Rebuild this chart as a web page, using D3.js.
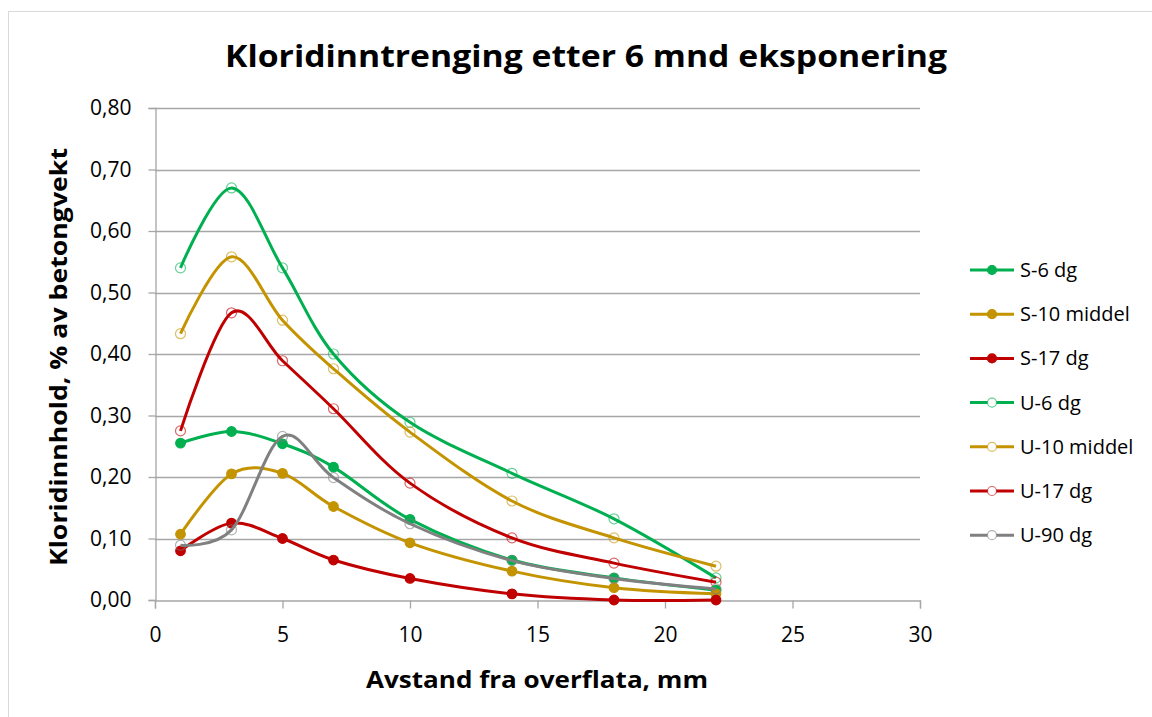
<!DOCTYPE html>
<html>
<head>
<meta charset="utf-8">
<script src="https://cdn.jsdelivr.net/npm/d3@7"></script>
<style>
  body { margin: 0; background: #fff; }
  text { font-family: "Open Sans", sans-serif; }
</style>
</head>
<body>
<div id="chart"></div>
<script>
const width = 1152;
const height = 717;

// distances (mm)
const distances = [1, 3, 5, 7, 10, 14, 18, 22];

const seriesNames = ['S-6 dg', 'S-10 middel', 'S-17 dg', 'U-6 dg', 'U-10 middel', 'U-17 dg', 'U-90 dg'];
const s6 = [0.255, 0.274, 0.254, 0.216, 0.131, 0.065, 0.036, 0.016];
const s10 = [0.107, 0.205, 0.206, 0.152, 0.093, 0.047, 0.020, 0.010];
const s17 = [0.080, 0.125, 0.100, 0.065, 0.035, 0.010, 0.000, 0.000];
const u6 = [0.540, 0.670, 0.540, 0.400, 0.289, 0.206, 0.132, 0.036];
const u10 = [0.433, 0.558, 0.455, 0.376, 0.273, 0.161, 0.101, 0.055];
const u17 = [0.275, 0.467, 0.389, 0.311, 0.190, 0.101, 0.060, 0.029];
const u90 = [0.089, 0.114, 0.266, 0.199, 0.124, 0.064, 0.035, 0.018];
const seriesValues = [s6, s10, s17, u6, u10, u17, u90];
const seriesColors = ['#00b050', '#c49300', '#c00000', '#00b050', '#c49300', '#c00000', '#808080'];
const seriesFilled = [true, true, true, false, false, false, false];

const yTicks = [0, 0.1, 0.2, 0.3, 0.4, 0.5, 0.6, 0.7, 0.8];
const xTicks = [0, 5, 10, 15, 20, 25, 30];

const margin = { top: 108, right: 232, bottom: 117, left: 155 };
const plot = {
  left: margin.left,
  right: width - margin.right,
  top: margin.top,
  bottom: height - margin.bottom,
};

const svg = d3.select('#chart')
  .append('svg')
  .attr('width', width)
  .attr('height', height);

// chart area border
svg.append('rect')
  .attr('x', 8.5).attr('y', 11.5)
  .attr('width', width + 20).attr('height', height + 20)
  .attr('fill', 'none')
  .attr('stroke', '#d9d9d9');

const xScale = d3.scaleLinear().domain([0, 30]).range([plot.left, plot.right]);
const yScale = d3.scaleLinear().domain([0, 0.8]).range([plot.bottom, plot.top]);

const fmt = (d) => d3.format('.2f')(d).replace('.', ',');

// gridlines
svg.append('g')
  .selectAll('line')
  .data(yTicks.slice(1))
  .join('line')
  .attr('x1', plot.left).attr('x2', plot.right)
  .attr('y1', (d) => Math.round(yScale(d)) + 0.5)
  .attr('y2', (d) => Math.round(yScale(d)) + 0.5)
  .attr('stroke', '#a6a6a6')
  .attr('stroke-width', 1.3);

// y axis
const yAxis = svg.append('g')
  .attr('transform', `translate(${plot.left + 0.5},0)`)
  .call(d3.axisLeft(yScale).tickValues(yTicks).tickFormat(fmt).tickSize(7).tickPadding(17));
yAxis.select('.domain').attr('stroke', '#a6a6a6').attr('stroke-width', 1.3);
yAxis.selectAll('.tick line').attr('stroke', '#a6a6a6').attr('stroke-width', 1.3);
yAxis.selectAll('.tick text')
  .attr('font-size', 21)
  .attr('fill', '#000')
  .style('font-family', '"Open Sans", sans-serif');

// x axis
const xAxis = svg.append('g')
  .attr('transform', `translate(0,${plot.bottom + 0.5})`)
  .call(d3.axisBottom(xScale).tickValues(xTicks).tickSize(8).tickPadding(19));
xAxis.select('.domain').attr('stroke', '#a6a6a6').attr('stroke-width', 1.3);
xAxis.selectAll('.tick line').attr('stroke', '#a6a6a6').attr('stroke-width', 1.3);
xAxis.selectAll('.tick text')
  .attr('font-size', 21)
  .attr('fill', '#000')
  .style('font-family', '"Open Sans", sans-serif');

// title
svg.append('text')
  .attr('x', 586).attr('y', 67)
  .attr('text-anchor', 'middle')
  .attr('font-size', 31)
  .attr('font-weight', 'bold')
  .attr('textLength', 722)
  .attr('lengthAdjust', 'spacingAndGlyphs')
  .text('Kloridinntrenging etter 6 mnd eksponering');

// axis titles
svg.append('text')
  .attr('x', 537).attr('y', 688)
  .attr('text-anchor', 'middle')
  .attr('font-size', 23)
  .attr('font-weight', 'bold')
  .attr('textLength', 342)
  .attr('lengthAdjust', 'spacingAndGlyphs')
  .text('Avstand fra overflata, mm');

svg.append('text')
  .attr('transform', 'translate(67,357) rotate(-90)')
  .attr('text-anchor', 'middle')
  .attr('font-size', 23)
  .attr('font-weight', 'bold')
  .attr('textLength', 418)
  .attr('lengthAdjust', 'spacingAndGlyphs')
  .text('Kloridinnhold, % av betongvekt');

// series
const line = d3.line()
  .x((d) => xScale(d[0]))
  .y((d) => yScale(d[1]))
  .curve(d3.curveCardinal.tension(0));

const order = [3, 4, 5, 0, 1, 2, 6];
order.forEach((i) => {
  const pts = distances.map((x, j) => [x, seriesValues[i][j]]);
  const g = svg.append('g');
  g.append('path')
    .attr('d', line(pts))
    .attr('fill', 'none')
    .attr('stroke', seriesColors[i])
    .attr('stroke-width', 3);
  g.selectAll('circle')
    .data(pts)
    .join('circle')
    .attr('cx', (d) => xScale(d[0]))
    .attr('cy', (d) => yScale(d[1]))
    .attr('r', seriesFilled[i] ? 4.8 : 5)
    .attr('fill', seriesFilled[i] ? seriesColors[i] : 'none')
    .attr('stroke', seriesColors[i])
    .attr('stroke-opacity', seriesFilled[i] ? 1 : 0.6)
    .attr('stroke-width', 1.2);
});

// legend
const legend = svg.append('g').attr('transform', 'translate(970,0)');
seriesNames.forEach((name, i) => {
  const y = 270 + i * 44.2;
  const row = legend.append('g').attr('transform', `translate(0,${y})`);
  row.append('line')
    .attr('x1', 0).attr('x2', 44)
    .attr('stroke', seriesColors[i])
    .attr('stroke-width', 3);
  row.append('circle')
    .attr('cx', 22).attr('cy', 0)
    .attr('r', 4.5)
    .attr('fill', seriesFilled[i] ? seriesColors[i] : '#fff')
    .attr('stroke', seriesColors[i])
    .attr('stroke-opacity', seriesFilled[i] ? 1 : 0.6)
    .attr('stroke-width', 1.2);
  row.append('text')
    .attr('x', 50).attr('y', 7)
    .attr('font-size', 20)
    .text(name);
});
</script>
</body>
</html>
